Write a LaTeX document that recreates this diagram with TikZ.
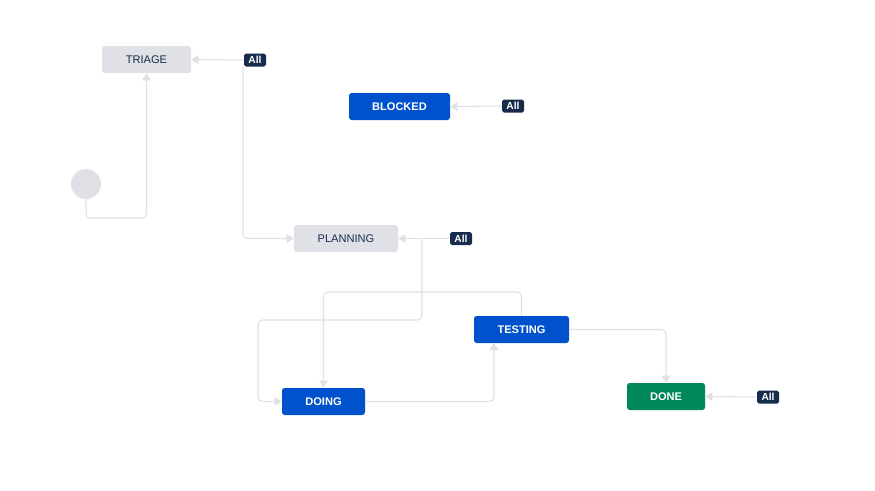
\documentclass[tikz,border=0pt]{standalone}
\usepackage{fontspec}
\setmainfont{Liberation Sans}
\usetikzlibrary{arrows.meta}
\definecolor{lane}{HTML}{DFE1E6}
\definecolor{bluebox}{HTML}{0052CC}
\definecolor{greenbox}{HTML}{00875A}
\definecolor{ink}{HTML}{172B4D}
\tikzset{
  status/.style={rounded corners=1.5pt,inner sep=0pt,minimum height=27*0.02cm,font=\fontsize{6.3}{8}\selectfont},
  todo/.style={status,fill=lane,text=ink},
  doing/.style={status,fill=bluebox,text=white,font=\fontsize{6.3}{8}\selectfont\bfseries},
  done/.style={status,fill=greenbox,text=white,font=\fontsize{6.3}{8}\selectfont\bfseries},
  all/.style={fill=ink,text=white,rounded corners=1pt,inner sep=0pt,minimum width=22*0.02cm,minimum height=13*0.02cm,font=\fontsize{5.8}{7}\selectfont\bfseries},
  trans/.style={draw=lane,line width=0.6pt,rounded corners=2.5pt,-{Triangle[length=4pt,width=5pt,fill=lane]}}
}
\begin{document}
\begin{tikzpicture}[x=0.02cm,y=-0.02cm]
\useasboundingbox[fill=white] (0,0) rectangle (875,490);
\node [todo,minimum width=89*0.02cm] (triage) at (146.5,59.5) {TRIAGE};
\node [doing,minimum width=101*0.02cm] (blocked) at (399.5,106.5) {BLOCKED};
\node [todo,minimum width=104*0.02cm] (planning) at (346,238.5) {PLANNING};
\node [doing,minimum width=95*0.02cm] (testing) at (521.5,329.5) {TESTING};
\node [doing,minimum width=83*0.02cm] (doingbox) at (323.5,401.5) {DOING};
\node [done,minimum width=78*0.02cm] (donebox) at (666,396.5) {DONE};
\node [circle,fill=lane,minimum size=30*0.02cm,inner sep=0pt] (start) at (86,184) {};
\node [all] (alltriage) at (255,60) {All};
\node [all] (allblocked) at (513,106) {All};
\node [all] (allplanning) at (461,238.5) {All};
\node [all] (alldone) at (768,397) {All};
\coordinate (fromall) at (243,66);
\coordinate (fork) at (422,238.5);
\coordinate (inbox) at (494,343);
% transitions
\draw [trans] (start.south) |- (146.5,218) -- (triage.south);
\draw [trans] (alltriage.west) -- (triage.east);
\draw [trans] (fromall) |- (planning.west);
\draw [trans] (allblocked.west) -- (blocked.east);
\draw [trans] (allplanning.west) -- (planning.east);
\draw [trans] (fork) |- (258,320) |- (doingbox.west);
\draw [trans] (testing.north) |- (323.5,292) -- (doingbox.north);
\draw [trans] (doingbox.east) -| (inbox);
\draw [trans] (testing.east) -| (donebox.north);
\draw [trans] (alldone.west) -- (donebox.east);
\end{tikzpicture}
\end{document}
